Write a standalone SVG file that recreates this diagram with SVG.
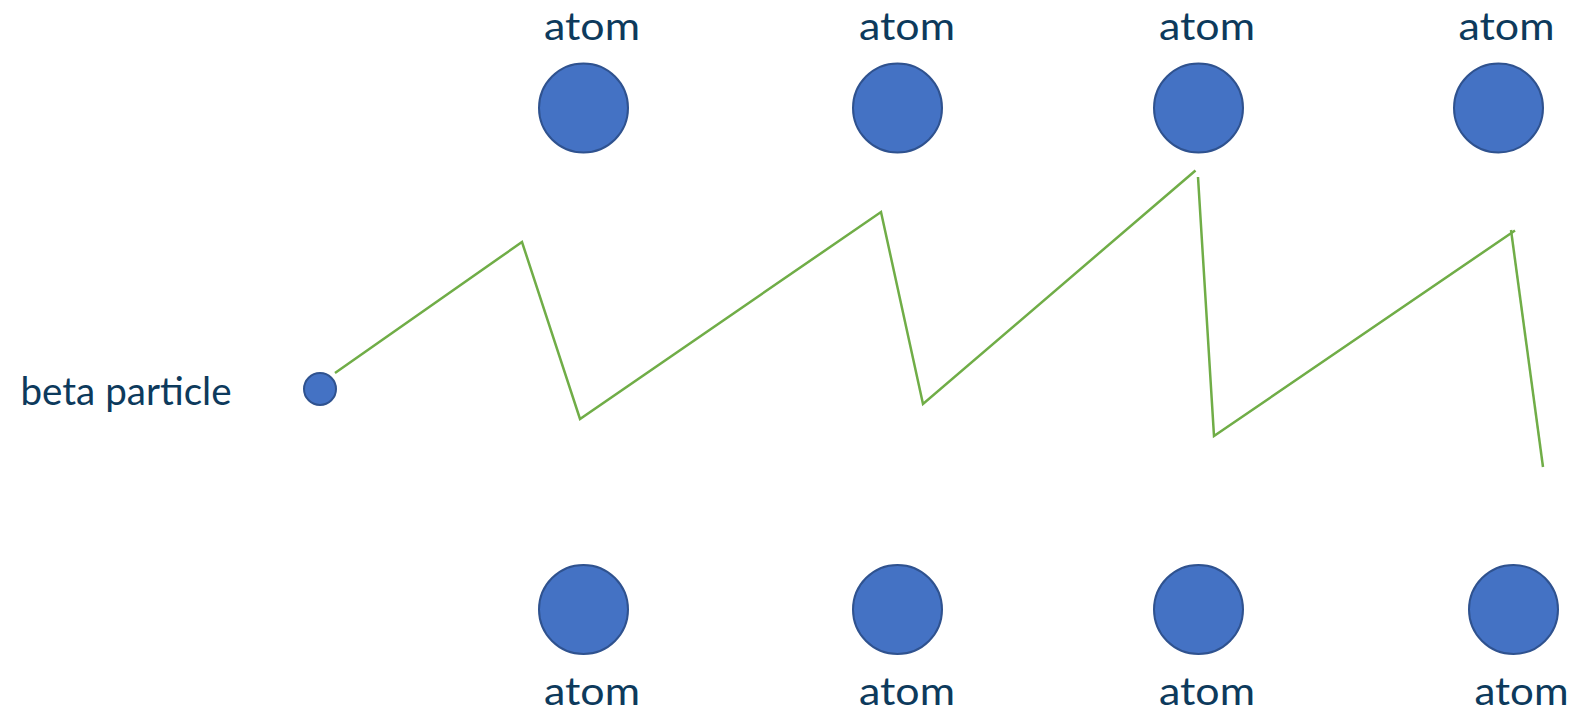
<svg xmlns="http://www.w3.org/2000/svg" width="1578" height="714" viewBox="0 0 1578 714">
<style>
.atom{fill:#4472C4;stroke:#2F528F;stroke-width:2}
.lbl{font-family:Lato,"Open Sans","Liberation Sans",sans-serif;font-size:39px;fill:#0D3A5C;text-anchor:middle}
.path{fill:none;stroke:#70AD47;stroke-width:2.5;stroke-linejoin:miter}
</style>
<rect width="1578" height="714" fill="#fff"/>
<g id="connectors">
<polyline class="path" points="335,373 522,242 580,419 881,212 923,404 1195.5,170.5"/>
<polyline class="path" points="1198,177 1214,436 1515,230.5"/>
<line class="path" x1="1511" y1="230" x2="1543" y2="467"/>
</g>
<g id="beta"><circle class="atom" cx="320" cy="389" r="16"/><text class="lbl" x="126" y="405" textLength="211" lengthAdjust="spacingAndGlyphs">beta particle</text></g>
<g id="atom-t1"><circle class="atom" cx="583.5" cy="108" r="44.5"/><text class="lbl" x="592" y="39.5" textLength="96" lengthAdjust="spacingAndGlyphs">atom</text></g>
<g id="atom-t2"><circle class="atom" cx="897.5" cy="108" r="44.5"/><text class="lbl" x="907" y="39.5" textLength="96" lengthAdjust="spacingAndGlyphs">atom</text></g>
<g id="atom-t3"><circle class="atom" cx="1198.5" cy="108" r="44.5"/><text class="lbl" x="1207" y="39.5" textLength="96" lengthAdjust="spacingAndGlyphs">atom</text></g>
<g id="atom-t4"><circle class="atom" cx="1498.5" cy="108" r="44.5"/><text class="lbl" x="1506.5" y="39.5" textLength="96" lengthAdjust="spacingAndGlyphs">atom</text></g>
<g id="atom-b1"><circle class="atom" cx="583.5" cy="609.5" r="44.5"/><text class="lbl" x="592" y="705" textLength="96" lengthAdjust="spacingAndGlyphs">atom</text></g>
<g id="atom-b2"><circle class="atom" cx="897.5" cy="609.5" r="44.5"/><text class="lbl" x="907" y="705" textLength="96" lengthAdjust="spacingAndGlyphs">atom</text></g>
<g id="atom-b3"><circle class="atom" cx="1198.5" cy="609.5" r="44.5"/><text class="lbl" x="1207" y="705" textLength="96" lengthAdjust="spacingAndGlyphs">atom</text></g>
<g id="atom-b4"><circle class="atom" cx="1513.5" cy="609.5" r="44.5"/><text class="lbl" x="1521.5" y="705" textLength="94" lengthAdjust="spacingAndGlyphs">atom</text></g>
</svg>
